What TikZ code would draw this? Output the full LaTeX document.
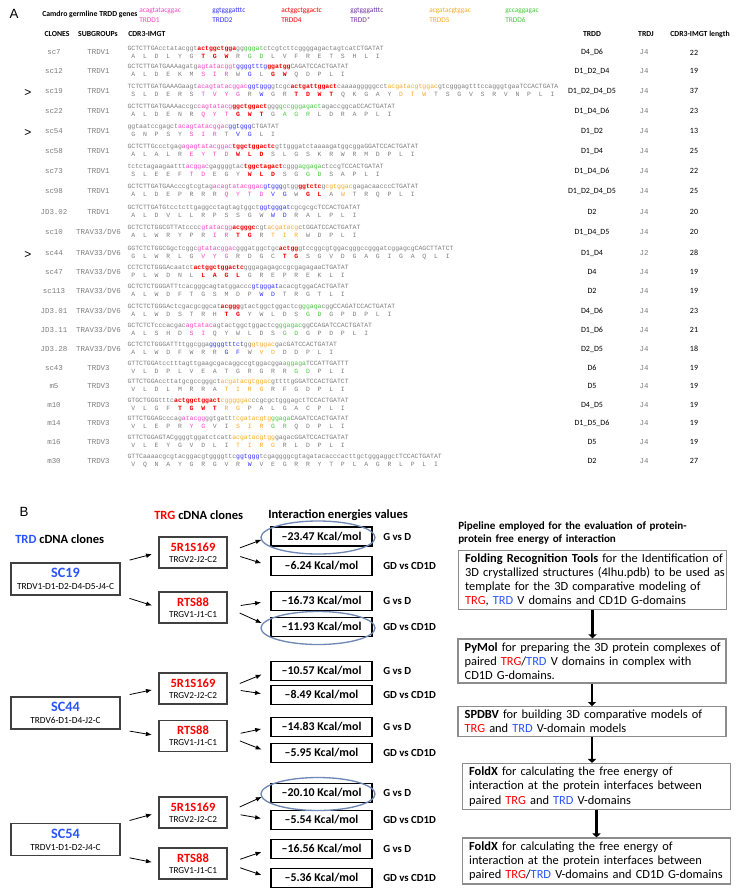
\documentclass[tikz,border=0pt]{standalone}
\usepackage{fontspec}
\setmainfont{Carlito}
\newfontfamily\seqfont{Liberation Mono}
\newfontfamily\arialfont{Liberation Sans}
\usetikzlibrary{arrows.meta,calc}

\definecolor{seqgray}{RGB}{125,125,125}
\definecolor{dpink}{RGB}{245,70,200}
\definecolor{dblue}{RGB}{50,50,255}
\definecolor{dred}{RGB}{240,0,0}
\definecolor{dpurple}{RGB}{112,48,160}
\definecolor{dorange}{RGB}{250,170,40}
\definecolor{dgreen}{RGB}{70,200,60}
\definecolor{tgred}{RGB}{255,0,0}
\definecolor{tdblue}{RGB}{40,85,255}
\definecolor{ringblue}{RGB}{110,135,180}

% сегменты TRDD
\newcommand{\segA}[1]{\textcolor{dpink}{#1}}
\newcommand{\segB}[1]{\textcolor{dblue}{#1}}
\newcommand{\segD}[1]{\textcolor{dred}{\bfseries #1}}
\newcommand{\segE}[1]{\textcolor{dorange}{#1}}
\newcommand{\segF}[1]{\textcolor{dgreen}{#1}}

\newcommand{\seqsz}{\seqfont\fontsize{4.85}{5.5}\selectfont}
\newcommand{\lblsz}{\seqfont\fontsize{5.6}{6.5}\selectfont}
\newcommand{\tabsz}{\fontsize{6}{7}\selectfont}
\newcommand{\hdrsz}{\bfseries\fontsize{5.8}{6.5}\selectfont}
\newcommand{\genesz}{\fontsize{5.5}{6.5}\selectfont}
\newcommand{\headB}{\bfseries\fontsize{9.4}{10.5}\selectfont}
\newcommand{\tdname}[1]{\textcolor{tdblue}{\bfseries\fontsize{10.7}{11}\selectfont #1}}
\newcommand{\tgname}[1]{\textcolor{tgred}{\bfseries\fontsize{9.4}{10}\selectfont #1}}
\newcommand{\jl}[1]{\makebox[191pt][s]{#1}}
\newcommand{\TRG}{\textcolor{tgred}{TRG}}
\newcommand{\TRD}{\textcolor{tdblue}{TRD}}

% строка таблицы: id, y, клон, подгруппа, нуклеотиды, аминокислоты, TRDD, TRDJ, длина
\newcommand{\seqrow}[9]{%
  \node[lbl] (#1n) at (54,#2) {#3};
  \node[lbl] (#1s) at (98.5,#2) {#4};
  \node[seq] (#1q) at (127.3,#2-3.5) {#5};
  \node[aas] (#1a) at (131.2,#2+3.5) {#6};
  \node[tab] (#1d) at (592,#2) {#7};
  \node[lbl] (#1j) at (644,#2) {#8};
  \node[tab] (#1l) at (694,#2) {#9};
}

\begin{document}
\begin{tikzpicture}[x=0.75pt,y=-0.75pt,
  txt/.style={inner sep=0},
  lbl/.style={inner sep=0,font=\lblsz,text=seqgray},
  seq/.style={anchor=west,inner sep=0,font=\seqsz,text=seqgray},
  aas/.style={seq,font={\seqsz\spaceskip=1.2em\relax}},
  tab/.style={inner sep=0,font=\tabsz},
  hdr/.style={inner sep=0,font=\hdrsz},
  gene/.style={anchor=west,inner sep=0,font=\genesz},
  tdbox/.style={draw=black!75,line width=0.8pt,minimum width=81.75pt,minimum height=24pt,align=center,inner sep=1pt,font=\fontsize{7}{8}\selectfont},
  tgbox/.style={tdbox,minimum width=51pt,minimum height=23.25pt,font=\fontsize{6.9}{7.5}\selectfont},
  enbox/.style={draw=black,line width=1pt,minimum width=75.75pt,minimum height=14.25pt,inner sep=0,font=\bfseries\fontsize{8.9}{9.5}\selectfont},
  gdlbl/.style={anchor=west,inner sep=0,font=\bfseries\fontsize{8.1}{9}\selectfont},
  pbox/.style={draw=black!45,line width=0.9pt,text width=191pt,inner xsep=5pt,inner ysep=2.5pt,align=left,font=\fontsize{9.3}{10.7}\selectfont},
  arr/.style={-{Latex[length=4.5pt,width=3.5pt]},line width=0.6pt},
  parr/.style={-{Triangle[length=3pt,width=6pt]},line width=2.2pt},
  ring/.style={draw=ringblue,line width=1pt}]
  \useasboundingbox (0,0) rectangle (738,895);

  % Панель A
  \node[txt,font=\arialfont\fontsize{10}{12}\selectfont] (labA) at (14,14) {A};
  \node[gene,font=\hdrsz] (camdro) at (42,14) {Camdro germline TRDD genes};
  \node[gene,text=dpink] (d1s) at (139,11) {acagtatacggac};
  \node[gene,text=dpink] (d1n) at (139,20) {TRDD1};
  \node[gene,text=dblue] (d2s) at (212,11) {ggtgggatttc};
  \node[gene,text=dblue] (d2n) at (212,20) {TRDD2};
  \node[gene,text=dred] (d4s) at (281,11) {actggctggactc};
  \node[gene,text=dred] (d4n) at (281,20) {TRDD4};
  \node[gene,text=dpurple] (dxs) at (350,11) {ggtgggatttc};
  \node[gene,text=dpurple] (dxn) at (350,20) {TRDD*};
  \node[gene,text=dorange] (d5s) at (429,11) {acgatacgtggac};
  \node[gene,text=dorange] (d5n) at (429,20) {TRDD5};
  \node[gene,text=dgreen] (d6s) at (505,11) {gccaggagac};
  \node[gene,text=dgreen] (d6n) at (505,20) {TRDD6};

  \node[hdr] (hclone) at (57,34) {CLONES};
  \node[hdr] (hsub) at (98,34) {SUBGROUPs};
  \node[hdr,anchor=west] (hcdr) at (128,34) {CDR3-IMGT};
  \node[hdr] (htrdd) at (592,34) {TRDD};
  \node[hdr] (htrdj) at (646,34) {TRDJ};
  \node[hdr] (hlen) at (700,34) {CDR3-IMGT length};

  \seqrow{r1}{52.5}{sc7}{TRDV1}{GCTCTTGAcctatacggt\segD{actggctgga}gg\segF{gggat}ctcgtcttcggggagactagtcatCTGATAT}{A L D L Y G \segD{T G W} R \segF{G D} L V F R E T S H L I}{D4\_D6}{J4}{22}
  \seqrow{r2}{71}{sc12}{TRDV1}{GCTCTTGATGAAAagatg\segA{agtatacggt}\segB{ggggtttg}\segD{ggatgg}CAGATCCACTGATAT}{A L D E K M \segA{S I R} W \segB{G} L \segD{G W} Q D P L I}{D1\_D2\_D4}{J4}{19}
  \seqrow{r3}{91}{sc19}{TRDV1}{TCTCTTGATGAAAGaagt\segA{acagtatacggac}\segB{ggtggg}gtcgc\segD{actgattggact}caaaagggggcct\segE{acgatacgtggac}gtcgggagtttccagggtgaaTCCACTGATA}{S L D E R S \segA{T V Y G} R \segB{W} G R \segD{T D W T} Q K G A Y \segE{D T W} T S G V S R V N P L I}{D1\_D2\_D4\_D5}{J4}{37}
  \seqrow{r4}{111}{sc22}{TRDV1}{GCTCTTGATGAAAaccgc\segA{cagtatacg}\segD{ggctggact}ggg\segF{gccgggagact}agaccggcaCCACTGATAT}{A L D E N R \segA{Q Y T} \segD{G W T} G \segF{A G R} L D R A P L I}{D1\_D4\_D6}{J4}{23}
  \seqrow{r5}{131}{sc54}{TRDV1}{ggtaatccgagct\segA{acagtatacggac}\segB{ggtggg}CTGATAT}{G N P S Y \segA{S I R} T \segB{V G} L I}{D1\_D2}{J4}{13}
  \seqrow{r6}{151}{sc58}{TRDV1}{GCTCTTGccctgag\segA{agagtatacggac}\segD{tggctggactc}gttgggatctaaaagatggcggaGGATCCACTGATAT}{A L A L R \segA{E Y T D} \segD{W L D} S L G S K R W R M D P L I}{D1\_D4}{J4}{25}
  \seqrow{r7}{171}{sc73}{TRDV1}{tctctagaagaattt\segA{acggac}gaggggtac\segD{tggctagact}cggg\segF{aggaga}ctccgTCCACTGATAT}{S L E E F \segA{T D} E G Y \segD{W L D} S G \segF{G D} S A P L I}{D1\_D4\_D6}{J4}{22}
  \seqrow{r8}{191}{sc98}{TRDV1}{GCTCTTGATGAAcccgtcgtag\segA{acagtatacggac}\segB{gtggg}gtgg\segD{ggtctc}g\segE{cgtggac}gagacaacccCTGATAT}{A L D E P R R R \segA{Q Y T D} \segB{V G} W \segD{G L} A \segE{W} T R Q P L I}{D1\_D2\_D4\_D5}{J4}{25}
  \seqrow{r9}{212}{JD3.02}{TRDV1}{GCTCTTGATGtcctcttgaggcctagtagtggct\segB{ggtgggat}cgcgcgcTCCACTGATAT}{A L D V L L R P S S G W \segB{W D} R A L P L I}{D2}{J4}{20}
  \seqrow{r10}{232}{sc10}{TRAV33/DV6}{GCTCTCTGGCGTTAtcccc\segA{gtatacgg}\segD{acgggc}cgt\segE{acgatacg}ctGGATCCACTGATAT}{A L W R Y P R \segA{I R} \segD{T G} R \segE{T I R} W D P L I}{D1\_D4\_D5}{J4}{20}
  \seqrow{r11}{253}{sc44}{TRAV33/DV6}{GGTCTCTGGCGgctcggc\segA{gtatacggac}gggatggctgc\segD{actgg}gtccggcgtggacgggccgggatcggagcgCAGCTTATCT}{G L W R L G \segA{V Y G} R D G C \segD{T G} S G V D G A G I G A Q L I}{D1\_D4}{J2}{28}
  \seqrow{r12}{272}{sc47}{TRAV33/DV6}{CCTCTCTGGGAcaatct\segD{actggctggactc}gggagagagccgcgagagaaCTGATAT}{P L W D N L \segD{L A G L} G R E P R E K L I}{D4}{J4}{19}
  \seqrow{r13}{291}{sc113}{TRAV33/DV6}{GCTCTCTGGGATTtcacgggcagtatggaccc\segB{gtgggat}acacgtggaCACTGATAT}{A L W D F T G S M D P \segB{W D} T R G T L I}{D2}{J4}{19}
  \seqrow{r14}{311}{JD3.01}{TRAV33/DV6}{GCTCTCTGGGActcgacgcggcat\segD{acggg}gtactggctggactcg\segF{ggaga}cggCCAGATCCACTGATAT}{A L W D S T R H \segD{T G} Y W L D S \segF{G D} G P D P L I}{D4\_D6}{J4}{23}
  \seqrow{r15}{330}{JD3.11}{TRAV33/DV6}{GCTCTCTcccacgac\segA{agtatac}agtactggctggactcg\segF{ggagac}ggCCAGATCCACTGATAT}{A L S H D \segA{S I} Q Y W L D S \segF{G D} G P D P L I}{D1\_D6}{J4}{21}
  \seqrow{r16}{349}{JD3.28}{TRAV33/DV6}{GCTCTCTGGGATTttggcgga\segB{ggggtttct}gg\segE{gtggac}gacGATCCACTGATAT}{A L W D F W R R \segB{G F} W \segE{V D} D D P L I}{D2\_D5}{J4}{18}
  \seqrow{r17}{368}{sc43}{TRDV3}{GTTCTGGAtcctttagttgaagcgacaggccgtggacgga\segF{aggaga}TCCATTGATTT}{V L D P L V E A T G R G R R \segF{G D} P L I}{D6}{J4}{19}
  \seqrow{r18}{386}{m5}{TRDV3}{GTTCTGGAccttatgcgccgggct\segE{acgatacgtggac}gttttgGGATCCACTGATCT}{V L D L M R R A \segE{T I R G} R F G D P L I}{D5}{J4}{19}
  \seqrow{r19}{405}{m10}{TRDV3}{GTGCTGGGtttc\segD{actggctggact}\segE{cgggggac}ccgcgctgggagctTCCACTGATAT}{V L G F \segD{T G W T} \segE{R G} P A L G A C P L I}{D4\_D5}{J4}{19}
  \seqrow{r20}{423}{m14}{TRDV3}{GTTCTGGAGcccag\segA{atacgg}ggtgatt\segE{tcgatacgtg}\segF{ggaga}CAGATCCACTGATAT}{V L E P R \segA{Y G} V I \segE{S I R} \segF{G R} Q D P L I}{D1\_D5\_D6}{J4}{19}
  \seqrow{r21}{442}{m16}{TRDV3}{GTTCTGGAGTACggggtggatctcatt\segE{acgatacgtgg}gagacGGATCCACTGATAT}{V L E Y G V D L I \segE{T I R G} R L D P L I}{D5}{J4}{19}
  \seqrow{r22}{461}{m30}{TRDV3}{GTTCaaaacgcgtacggacgtggggttc\segB{ggtggg}tcgaggggcgtagatacacccacttgctgggaggctTCCACTGATAT}{V Q N A Y G R G V R \segB{W} V E G R R Y T P L A G R L P L I}{D2}{J4}{27}

  \node[txt,font=\arialfont\fontsize{9}{10}\selectfont] (mk1) at (28,93) {>};
  \node[txt,font=\arialfont\fontsize{9}{10}\selectfont] (mk2) at (28,133) {>};
  \node[txt,font=\arialfont\fontsize{9}{10}\selectfont] (mk3) at (28,255) {>};

  % Панель B
  \node[txt,font=\arialfont\fontsize{10}{12}\selectfont] (labB) at (24,512) {B};
  \node[txt,anchor=west,font=\headB] (trgtitle) at (154,515) {\TRG{} cDNA clones};
  \node[txt,anchor=west,font=\headB] (entitle) at (268,515) {Interaction energies values};
  \node[txt,anchor=west,font=\headB] (trdtitle) at (15,539) {\TRD{} cDNA clones};

  \node[tdbox] (sc19) at (65.5,579) {\tdname{SC19}\\[1pt]TRDV1-D1-D2-D4-D5-J4-C};
  \node[tdbox] (sc44) at (65.5,713) {\tdname{SC44}\\[1pt]TRDV6-D1-D4-J2-C};
  \node[tdbox] (sc54) at (65.5,839.5) {\tdname{SC54}\\[1pt]TRDV1-D1-D2-J4-C};

  \node[tgbox] (g19a) at (193,552.5) {\tgname{5R1S169}\\[1pt]TRGV2-J2-C2};
  \node[tgbox] (g19b) at (193,607.5) {\tgname{RTS88}\\[1pt]TRGV1-J1-C1};
  \node[tgbox] (g44a) at (193,688.5) {\tgname{5R1S169}\\[1pt]TRGV2-J2-C2};
  \node[tgbox] (g44b) at (193,736) {\tgname{RTS88}\\[1pt]TRGV1-J1-C1};
  \node[tgbox] (g54a) at (193,812.5) {\tgname{5R1S169}\\[1pt]TRGV2-J2-C2};
  \node[tgbox] (g54b) at (193,863.5) {\tgname{RTS88}\\[1pt]TRGV1-J1-C1};

  \foreach \y/\v [count=\i] in {536.5/23.47,566/6.24,601/16.73,627/11.93,671/10.57,695/8.49,727/14.83,753/5.95,793/20.10,820/5.54,849/16.56,878/5.36} {
    \node[enbox] (e\i) at (321.5,\y) {–\v\ Kcal/mol};
    \node[gdlbl] (l\i) at (383,\y) {\ifodd\i G vs D\else GD vs CD1D\fi};
  }

  \foreach \s/\a/\b in {sc19/g19a/g19b,sc44/g44a/g44b,sc54/g54a/g54b} {
    \draw[arr,shorten <=7pt,shorten >=5pt] (\s.north east) -- (\a.west);
    \draw[arr,shorten <=7pt,shorten >=5pt] (\s.south east) -- (\b.west);
  }
  \foreach \g [count=\i] in {g19a,g19b,g44a,g44b,g54a,g54b} {
    \pgfmathtruncatemacro\ea{2*\i-1}
    \pgfmathtruncatemacro\eb{2*\i}
    \draw[arr,shorten <=10pt,shorten >=7pt] (\g.east) -- (e\ea.west);
    \draw[arr,shorten <=10pt,shorten >=7pt] (\g.east) -- (e\eb.west);
  }

  \draw[ring] ($(e1.center)+(-3.5,1)$) ellipse (57 and 16.5);
  \draw[ring] ($(e4.center)+(-3.5,1)$) ellipse (57 and 16.5);
  \draw[ring] ($(e9.center)+(-3.5,1)$) ellipse (57 and 16.5);

  % Схема расчёта
  \node[txt,anchor=west,text width=198pt,align=left,font=\bfseries\fontsize{8.3}{9.2}\selectfont] (pipehd) at (458,533)
    {\makebox[198pt][s]{Pipeline employed for the evaluation of protein-}\\protein free energy of interaction};
  \node[pbox] (p1) at (592.5,580) {\jl{\textbf{Folding Recognition Tools} for the Identification of}\\
    \jl{3D crystallized structures (4lhu.pdb) to be used as}\\
    \jl{template for the 3D comparative modeling of}\\
    \TRG, \TRD{} V domains and CD1D G-domains};
  \node[pbox] (p2) at (592,661) {\jl{\textbf{PyMol} for preparing the 3D protein complexes of}\\
    \jl{paired \TRG/\TRD{} V domains in complex with}\\
    CD1D G-domains.};
  \node[pbox] (p3) at (592,721.5) {\jl{\textbf{SPDBV} for building 3D comparative models of}\\
    \TRG{} and \TRD{} V-domain models};
  \node[pbox] (p4) at (596.5,786.5) {\jl{\textbf{FoldX} for calculating the free energy of}\\
    \jl{interaction at the protein interfaces between}\\
    paired \TRG{} and \TRD{} V-domains};
  \node[pbox] (p5) at (596.5,861) {\textbf{FoldX} for calculating the free energy of\\
    interaction at the protein interfaces between\\
    paired \TRG/\TRD{} V-domains and CD1D G-domains};

  \draw[parr] (p1.south) -- (p1.south |- p2.north);
  \draw[parr] (p2.south) -- (p2.south |- p3.north);
  \draw[parr] (p3.south) -- (p3.south |- p4.north);
  \draw[parr] (p4.south) -- (p4.south |- p5.north);
\end{tikzpicture}
\end{document}
